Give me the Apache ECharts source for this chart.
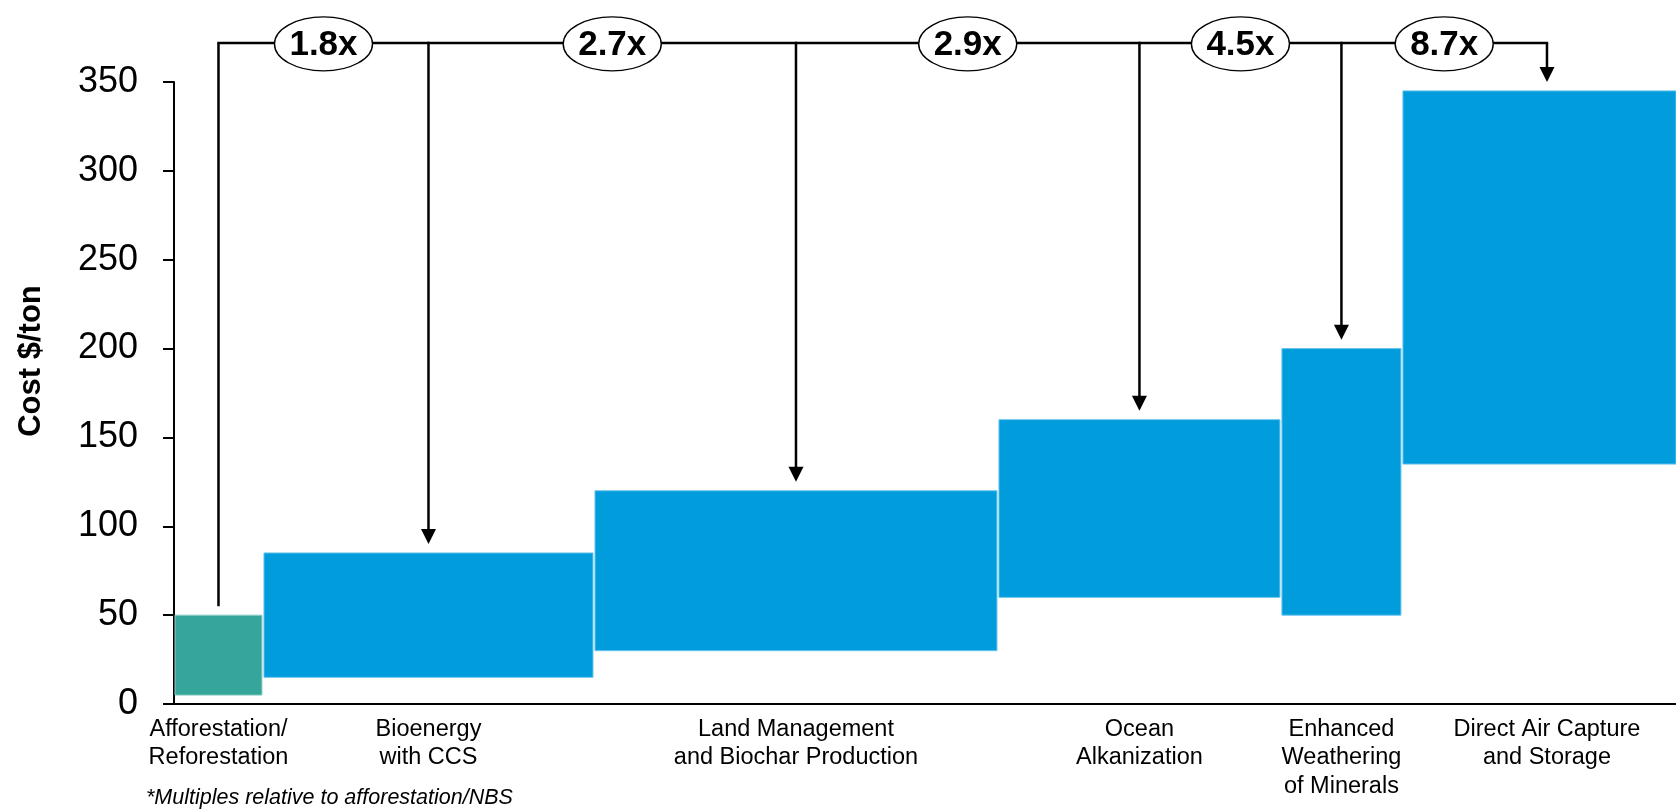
<!DOCTYPE html>
<html>
<head>
<meta charset="utf-8">
<script src="https://cdn.jsdelivr.net/npm/echarts@6/dist/echarts.min.js"></script>
<style>
  html, body { margin: 0; padding: 0; background: #ffffff; }
  #chart { width: 1676px; height: 809px; }
</style>
</head>
<body>
<div id="chart"></div>
<script>
// Carbon removal pathways: each block spans the low-to-high cost per ton,
// block width shows the relative scale of the pathway.
const pathways = [
  'Afforestation/\nReforestation',
  'Bioenergy\nwith CCS',
  'Land Management\nand Biochar Production',
  'Ocean\nAlkanization',
  'Enhanced\nWeathering\nof Minerals',
  'Direct Air Capture\nand Storage'
];
const pathwayKind = ['nature', 'engineered', 'engineered', 'engineered', 'engineered', 'engineered'];
const blockWidths = [0.5, 1.86, 2.27, 1.59, 0.68, 1.63];
const costLow  = [5, 15, 30, 60, 50, 135];
const costHigh = [50, 85, 120, 160, 200, 345];
// cost multiples relative to afforestation, between neighbouring pathways
const multiples = ['1.8x', '2.7x', '2.9x', '4.5x', '8.7x'];
const yMin = 0, yMax = 350, yStep = 50;
const xSpan = 8.44;            // visible part of the width axis
const bracketLevel = 372;      // cost level of the top bracket line
const pointerGap = 5;          // arrows stop this far above a block

const FONT = "'Liberation Sans', Arial, Helvetica, sans-serif";
const kindColors = {
  nature:     { fill: '#36a69a', edge: '#8fd0c8' },
  engineered: { fill: '#009cdc', edge: '#66c4ee' }
};

// [start, end, low, high, index]
let acc = 0;
const blocks = blockWidths.map((w, i) => {
  const row = [acc, acc + w, costLow[i], costHigh[i], i];
  acc += w;
  return row;
});
const centerOf = i => (blocks[i][0] + blocks[i][1]) / 2;

function renderBlock(params, api) {
  const i = api.value(4);
  const p0 = api.coord([api.value(0), api.value(3)]);
  const p1 = api.coord([api.value(1), api.value(2)]);
  const rect = echarts.graphic.clipRectByRect({
    x: p0[0] + 1, y: p0[1], width: p1[0] - p0[0] - 2, height: p1[1] - p0[1]
  }, {
    x: params.coordSys.x, y: params.coordSys.y,
    width: params.coordSys.width, height: params.coordSys.height
  });
  if (!rect) return;
  const c = kindColors[pathwayKind[i]];
  return { type: 'rect', shape: rect, style: { fill: c.fill, stroke: c.edge, lineWidth: 1 } };
}

function renderNotes(params, api) {
  const i = api.value(4);
  const xc = centerOf(i);
  const top = api.coord([xc, bracketLevel]);
  const tip = api.coord([xc, api.value(3) + pointerGap]);
  const base = api.coord([xc, 0]);
  const pen = { stroke: '#000', lineWidth: 2.5 };
  const head = 15;
  const kids = [];

  if (i > 0) {
    const prev = api.coord([centerOf(i - 1), bracketLevel]);
    kids.push({ type: 'line', shape: { x1: prev[0] - 1.2, y1: top[1], x2: top[0] + 1.2, y2: top[1] }, style: pen });
  }
  if (i === 0) {
    kids.push({ type: 'line', shape: { x1: top[0], y1: top[1], x2: top[0], y2: tip[1] }, style: pen });
  } else {
    kids.push({ type: 'line', shape: { x1: top[0], y1: top[1], x2: top[0], y2: tip[1] - head + 1 }, style: pen });
    kids.push({ type: 'polygon', shape: { points: [[tip[0] - 7.5, tip[1] - head], [tip[0] + 7.5, tip[1] - head], [tip[0], tip[1]]] }, style: { fill: '#000' } });
  }
  if (i > 0) {
    const prev = api.coord([centerOf(i - 1), bracketLevel]);
    const mx = (prev[0] + top[0]) / 2;
    kids.push({ type: 'ellipse', shape: { cx: mx, cy: top[1] + 1, rx: 49, ry: 27 }, style: { fill: '#fff', stroke: '#000', lineWidth: 1.4 } });
    kids.push({ type: 'text', style: { text: multiples[i - 1], x: mx, y: top[1] + 2, align: 'center', verticalAlign: 'middle', font: 'bold 35px ' + FONT, fill: '#000' } });
  }
  kids.push({ type: 'text', style: { text: pathways[i], x: base[0], y: base[1] + 11, align: 'center', verticalAlign: 'top', font: '23.5px ' + FONT, lineHeight: 28.5, fill: '#000' } });
  return { type: 'group', children: kids };
}

const chart = echarts.init(document.getElementById('chart'), null, { renderer: 'canvas' });
chart.setOption({
  animation: false,
  backgroundColor: '#ffffff',
  grid: { left: 174, right: 0, top: 82, bottom: 105, containLabel: false, outerBoundsMode: 'none' },
  xAxis: {
    type: 'value', min: 0, max: xSpan,
    axisLine: { show: true, lineStyle: { color: '#000', width: 2 } },
    axisTick: { show: false }, axisLabel: { show: false }, splitLine: { show: false }
  },
  yAxis: {
    type: 'value', min: yMin, max: yMax, interval: yStep,
    axisLine: { show: true, lineStyle: { color: '#000', width: 2 } },
    axisTick: { show: true, inside: false, length: 11, lineStyle: { color: '#000', width: 2 } },
    axisLabel: { color: '#000', fontSize: 36, fontFamily: FONT, margin: 36 },
    splitLine: { show: false }
  },
  graphic: [
    { type: 'text', x: 31, y: 361, rotation: Math.PI / 2,
      style: { text: 'Cost $/ton', font: 'bold 31px ' + FONT, fill: '#000', align: 'center', verticalAlign: 'middle' } },
    { type: 'text', x: 146, y: 798,
      style: { text: '*Multiples relative to afforestation/NBS', font: 'italic 21.5px ' + FONT, fill: '#000', align: 'left', verticalAlign: 'middle' } }
  ],
  series: [
    { type: 'custom', name: 'cost range', renderItem: renderBlock, data: blocks, encode: { x: [0, 1], y: [2, 3] }, clip: true, z: 2 },
    { type: 'custom', name: 'notes', renderItem: renderNotes, data: blocks, encode: { x: [0, 1], y: [2, 3] }, clip: false, z: 3, silent: true }
  ]
});
</script>
</body>
</html>
